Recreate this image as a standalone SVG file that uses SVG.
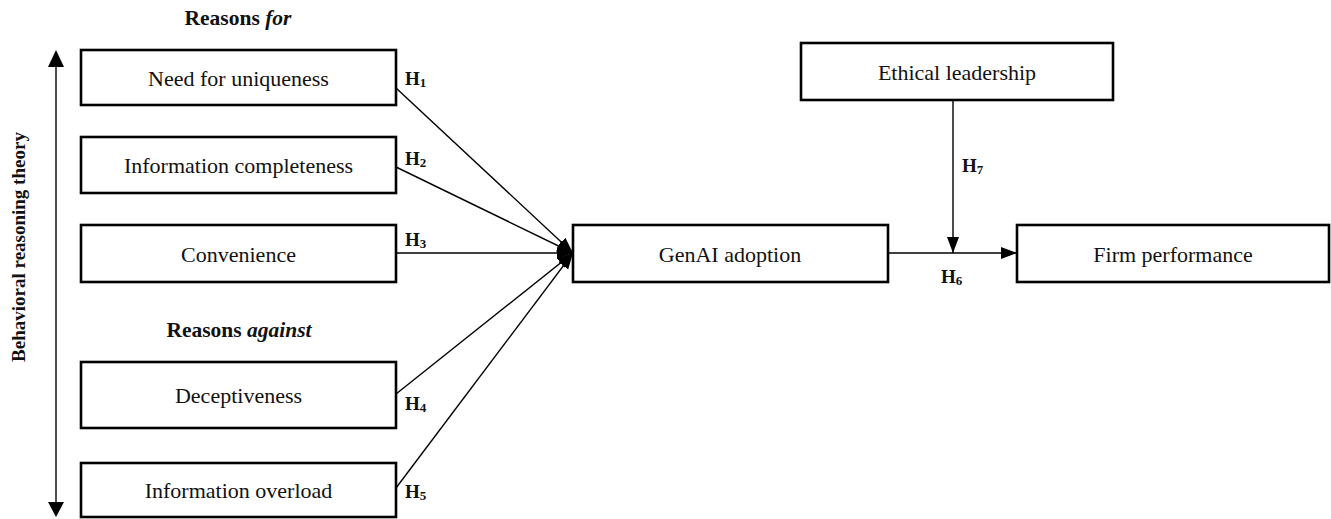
<svg xmlns="http://www.w3.org/2000/svg" width="1331" height="519" viewBox="0 0 1331 519">
<style>
.box{fill:#fff;stroke:#000;stroke-width:2.6}
.lbl{font-family:"Liberation Serif","Times New Roman",serif;font-size:22px;fill:#111;text-anchor:middle}
.h{font-family:"Liberation Serif","Times New Roman",serif;font-size:19px;font-weight:bold;fill:#111}
.sub{font-size:13px}
.hd{font-family:"Liberation Serif","Times New Roman",serif;font-size:21.5px;font-weight:bold;fill:#111;text-anchor:middle}
.vt{font-family:"Liberation Serif","Times New Roman",serif;font-size:19px;font-weight:bold;fill:#111;text-anchor:middle}
.ln{stroke:#000;stroke-width:1.4;fill:none}
</style>
<defs>
<marker id="ah" markerUnits="userSpaceOnUse" markerWidth="17" markerHeight="13" refX="16" refY="6" orient="auto">
<path d="M0,0 L16,6 L0,12 z" fill="#000"/>
</marker>
</defs>
<rect width="1331" height="519" fill="#fff"/>
<g id="theory">
<line class="ln" x1="56" y1="65" x2="56" y2="503" stroke-width="1.6"/>
<path d="M56,50 L48,67 L64,67 z" fill="#000"/>
<path d="M56,517 L48,502 L64,502 z" fill="#000"/>
<text class="vt" transform="translate(25,247) rotate(-90)">Behavioral reasoning theory</text>
</g>
<g id="headings">
<text class="hd" x="238" y="25">Reasons <tspan font-style="italic">for</tspan></text>
<text class="hd" x="239" y="337">Reasons <tspan font-style="italic">against</tspan></text>
</g>
<g id="connectors">
<line class="ln" x1="396" y1="88" x2="573" y2="253" marker-end="url(#ah)"/>
<line class="ln" x1="396" y1="167" x2="573" y2="253" marker-end="url(#ah)"/>
<line class="ln" x1="396" y1="253" x2="573" y2="253" marker-end="url(#ah)"/>
<line class="ln" x1="396" y1="394" x2="573" y2="253" marker-end="url(#ah)"/>
<line class="ln" x1="396" y1="488" x2="573" y2="253" marker-end="url(#ah)"/>
<line class="ln" x1="888" y1="253" x2="1017" y2="253" marker-end="url(#ah)"/>
<line class="ln" x1="953" y1="100" x2="953" y2="253" marker-end="url(#ah)"/>
<text class="h" x="405" y="85">H<tspan class="sub" dy="2">1</tspan></text>
<text class="h" x="405" y="165">H<tspan class="sub" dy="2">2</tspan></text>
<text class="h" x="405" y="246">H<tspan class="sub" dy="2">3</tspan></text>
<text class="h" x="405" y="410">H<tspan class="sub" dy="2">4</tspan></text>
<text class="h" x="405" y="498">H<tspan class="sub" dy="2">5</tspan></text>
<text class="h" x="941" y="283">H<tspan class="sub" dy="2">6</tspan></text>
<text class="h" x="962" y="172">H<tspan class="sub" dy="2">7</tspan></text>
</g>
<g id="n1"><rect class="box" x="81" y="50" width="315" height="55"/><text class="lbl" x="238.5" y="86">Need for uniqueness</text></g>
<g id="n2"><rect class="box" x="81" y="137" width="315" height="56"/><text class="lbl" x="238.5" y="173">Information completeness</text></g>
<g id="n3"><rect class="box" x="81" y="225" width="315" height="57"/><text class="lbl" x="238.5" y="262">Convenience</text></g>
<g id="n4"><rect class="box" x="81" y="362" width="315" height="66"/><text class="lbl" x="238.5" y="403">Deceptiveness</text></g>
<g id="n5"><rect class="box" x="81" y="463" width="315" height="54"/><text class="lbl" x="238.5" y="498">Information overload</text></g>
<g id="genai"><rect class="box" x="573" y="225" width="315" height="57"/><text class="lbl" x="730" y="262">GenAI adoption</text></g>
<g id="ethical"><rect class="box" x="801" y="43" width="312" height="57"/><text class="lbl" x="957" y="80">Ethical leadership</text></g>
<g id="firm"><rect class="box" x="1017" y="225" width="312" height="57"/><text class="lbl" x="1173" y="262">Firm performance</text></g>
</svg>
